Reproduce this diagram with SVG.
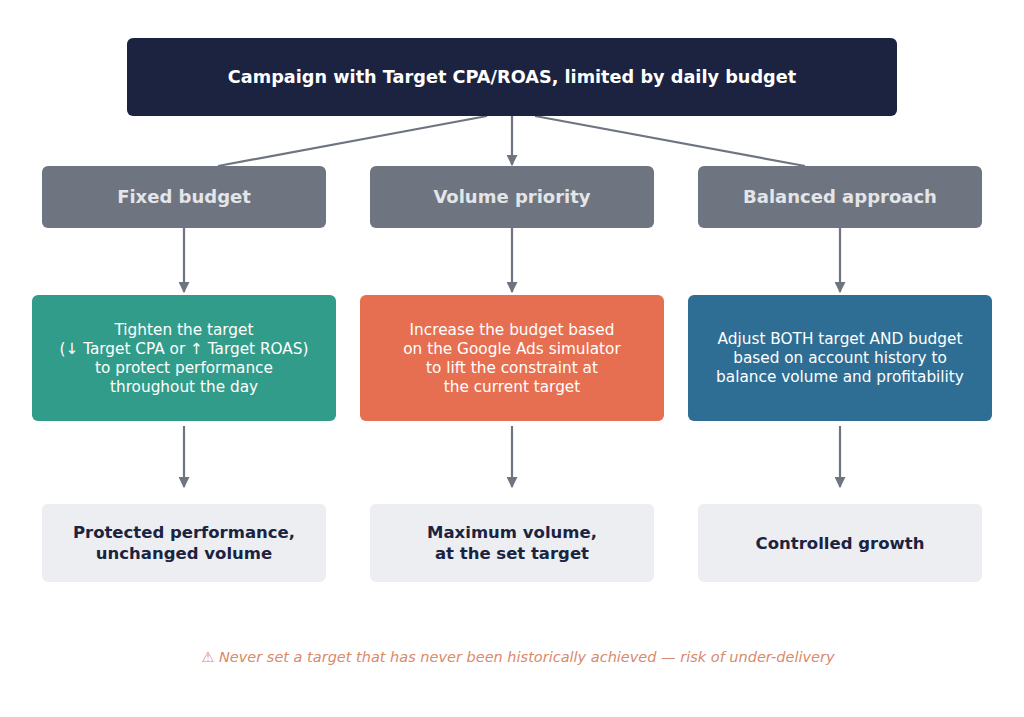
<svg xmlns="http://www.w3.org/2000/svg" width="1024" height="717" viewBox="0 0 1024 717">
<style>
text{font-family:"DejaVu Sans","Noto Sans",sans-serif;text-anchor:middle}
.t{font-size:17.7px;font-weight:bold;fill:#fff}
.c rect{fill:#6e7580}
.c text{font-size:18px;font-weight:bold;fill:#e3e5e8}
.m text{font-size:15.3px;fill:#fff}
.b rect{fill:#eceef1}
.b text{font-size:16.5px;font-weight:bold;fill:#1b2340}
.e line{stroke:#6e7580;stroke-width:2.2;fill:none}
</style>
<defs><marker id="a" viewBox="0 0 10 10" refX="9" refY="5" markerWidth="5" markerHeight="5" orient="auto"><path d="M0,0L10,5L0,10z" fill="#6e7580"/></marker></defs>
<rect width="1024" height="717" fill="#fff"/>
<g class="e">
<line x1="487" y1="116" x2="218" y2="166"/>
<line x1="512" y1="116" x2="512" y2="165" marker-end="url(#a)"/>
<line x1="535" y1="116" x2="805" y2="166"/>
<line x1="184" y1="228" x2="184" y2="292" marker-end="url(#a)"/>
<line x1="512" y1="228" x2="512" y2="292" marker-end="url(#a)"/>
<line x1="840" y1="228" x2="840" y2="292" marker-end="url(#a)"/>
<line x1="184" y1="426" x2="184" y2="487" marker-end="url(#a)"/>
<line x1="512" y1="426" x2="512" y2="487" marker-end="url(#a)"/>
<line x1="840" y1="426" x2="840" y2="487" marker-end="url(#a)"/>
</g>
<g id="top"><rect x="127" y="38" width="770" height="78" rx="6" fill="#1b2340"/><text class="t" x="512" y="83">Campaign with Target CPA/ROAS, limited by daily budget</text></g>
<g id="c1" class="c"><rect x="42" y="166" width="284" height="62" rx="6"/><text x="184" y="203">Fixed budget</text></g>
<g id="c2" class="c"><rect x="370" y="166" width="284" height="62" rx="6"/><text x="512" y="203">Volume priority</text></g>
<g id="c3" class="c"><rect x="698" y="166" width="284" height="62" rx="6"/><text x="840" y="203">Balanced approach</text></g>
<g id="m1" class="m"><rect x="32" y="295" width="304" height="126" rx="6" fill="#329c8a"/><text x="184" y="335">Tighten the target</text><text x="184" y="354">(↓ Target CPA or ↑ Target ROAS)</text><text x="184" y="373">to protect performance</text><text x="184" y="392">throughout the day</text></g>
<g id="m2" class="m"><rect x="360" y="295" width="304" height="126" rx="6" fill="#e76f51"/><text x="512" y="335">Increase the budget based</text><text x="512" y="354">on the Google Ads simulator</text><text x="512" y="373">to lift the constraint at</text><text x="512" y="392">the current target</text></g>
<g id="m3" class="m"><rect x="688" y="295" width="304" height="126" rx="6" fill="#2f6e94"/><text x="840" y="344">Adjust BOTH target AND budget</text><text x="840" y="363">based on account history to</text><text x="840" y="382">balance volume and profitability</text></g>
<g id="b1" class="b"><rect x="42" y="504" width="284" height="78" rx="6"/><text x="184" y="538">Protected performance,</text><text x="184" y="559">unchanged volume</text></g>
<g id="b2" class="b"><rect x="370" y="504" width="284" height="78" rx="6"/><text x="512" y="538">Maximum volume,</text><text x="512" y="559">at the set target</text></g>
<g id="b3" class="b"><rect x="698" y="504" width="284" height="78" rx="6"/><text x="840" y="549">Controlled growth</text></g>
<text x="518" y="662" font-size="14.5" font-style="italic" fill="#d98a6a">⚠  Never set a target that has never been historically achieved — risk of under-delivery</text>
</svg>
